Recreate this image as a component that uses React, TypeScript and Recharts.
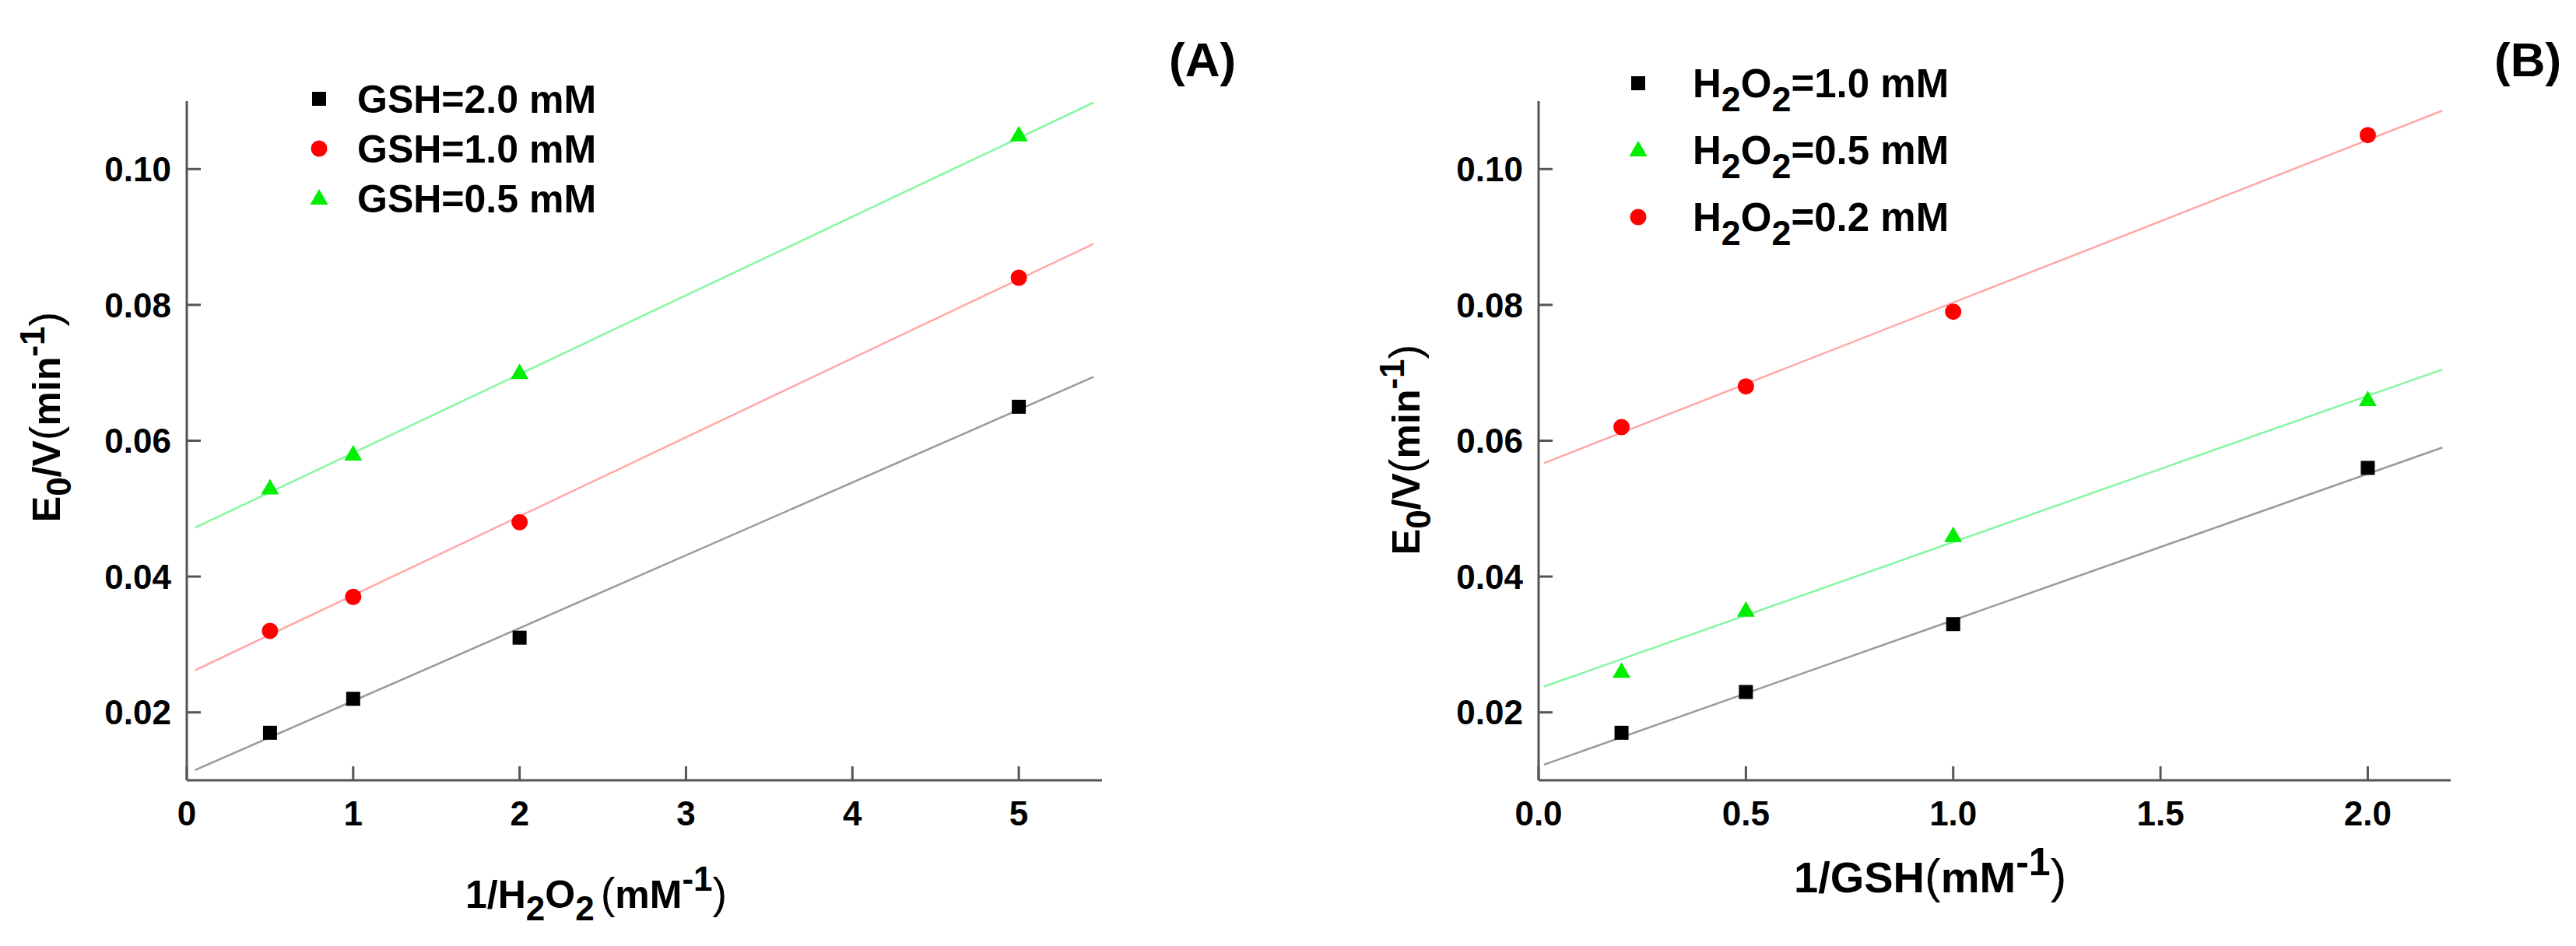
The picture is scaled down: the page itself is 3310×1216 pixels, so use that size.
import { Legend, Scatter, ScatterChart, XAxis, YAxis } from 'recharts'

const FONT = "'Liberation Sans', Arial, Helvetica, sans-serif"
const AXIS = '#555'

// panel A: 1/H2O2 (mM^-1)
const xA = [0.5, 1, 2, 5]
const gsh20 = [0.017, 0.022, 0.031, 0.065]
const gsh10 = [0.032, 0.037, 0.048, 0.084]
const gsh05 = [0.053, 0.058, 0.07, 0.105]
// fitted lines, end points
const fitXA = [0.05, 5.45]
const fitGsh20 = [0.0115, 0.0694]
const fitGsh10 = [0.0262, 0.089]
const fitGsh05 = [0.0472, 0.1098]
const ticksXA = [0, 1, 2, 3, 4, 5]

// panel B: 1/GSH (mM^-1)
const xB = [0.2, 0.5, 1, 2]
const h2o2_10 = [0.017, 0.023, 0.033, 0.056]
const h2o2_05 = [0.026, 0.035, 0.046, 0.066]
const h2o2_02 = [0.062, 0.068, 0.079, 0.105]
const fitXB = [0.013, 2.18]
const fitH10 = [0.0123, 0.059]
const fitH05 = [0.0238, 0.0705]
const fitH02 = [0.0567, 0.1086]
const ticksXB = [0, 0.5, 1, 1.5, 2]

const ticksY = [0.02, 0.04, 0.06, 0.08, 0.1]

const pts = (xs: number[], ys: number[]) => xs.map((x, i) => ({ x, y: ys[i] }))

const BLACK = '#000000'
const RED = '#ff0000'
const GREEN = '#00ee00'
const LINE_BLACK = '#9a9a9a'
const LINE_RED = '#ffa8a8'
const LINE_GREEN = '#86f7a0'

function Square({ cx, cy, fill }: any) {
  return <rect x={cx - 9} y={cy - 9} width={18} height={18} fill={fill} />
}
function Dot({ cx, cy, fill }: any) {
  return <circle cx={cx} cy={cy} r={10.5} fill={fill} />
}
function Tri({ cx, cy, fill }: any) {
  return <polygon points={`${cx},${cy - 12} ${cx + 11.5},${cy + 8} ${cx - 11.5},${cy + 8}`} fill={fill} />
}
const NoShape = () => <g />

const markers: Record<string, (p: any) => any> = { square: Square, circle: Dot, triangle: Tri }

const tickStyle = { fontSize: 44, fontWeight: 'bold', fill: '#000', fontFamily: FONT }

function YTitle({ tx, ty }: { tx: number; ty: number }) {
  return (
    <text
      x={tx}
      y={ty}
      transform={`rotate(-90 ${tx} ${ty})`}
      textAnchor="middle"
      fontSize={50}
      fontWeight="bold"
      fontFamily={FONT}
      fill="#000"
    >
      <tspan>E</tspan>
      <tspan fontSize={44} dy={14}>0</tspan>
      <tspan dy={-14}>/V</tspan>
      <tspan fontWeight="normal" fontSize={56}>(</tspan>
      <tspan>min</tspan>
      <tspan fontSize={44} dy={-20}>-1</tspan>
      <tspan dy={20} fontWeight="normal" fontSize={56}>)</tspan>
    </text>
  )
}

function XTitleA({ tag }: { tag: string }) {
  return (
    <g>
      <text x={598} y={1167} fontSize={50} fontWeight="bold" fontFamily={FONT} fill="#000">
        <tspan>1/H</tspan>
        <tspan fontSize={44} dy={16}>2</tspan>
        <tspan dy={-16}>O</tspan>
        <tspan fontSize={44} dy={16}>2</tspan>
        <tspan dy={-16} dx={8} fontWeight="normal" fontSize={56}>(</tspan>
        <tspan>mM</tspan>
        <tspan fontSize={44} dy={-22}>-1</tspan>
        <tspan dy={22} fontWeight="normal" fontSize={56}>)</tspan>
      </text>
      <text x={1502} y={98} fontSize={62} fontWeight="bold" fontFamily={FONT} fill="#000">
        {tag}
      </text>
    </g>
  )
}

function XTitleB({ tag }: { tag: string }) {
  return (
    <g>
      <text x={650} y={1147} fontSize={56} fontWeight="bold" fontFamily={FONT} fill="#000">
        <tspan>1/GSH</tspan>
        <tspan fontWeight="normal" fontSize={62}>(</tspan>
        <tspan>mM</tspan>
        <tspan fontSize={50} dy={-22}>-1</tspan>
        <tspan dy={22} fontWeight="normal" fontSize={62}>)</tspan>
      </text>
      <text x={1550} y={98} fontSize={62} fontWeight="bold" fontFamily={FONT} fill="#000">
        {tag}
      </text>
    </g>
  )
}

type Item = { label: string; sub?: boolean; shape: string; color: string }

const legendA: Item[] = [
  { label: 'GSH=2.0 mM', shape: 'square', color: BLACK },
  { label: 'GSH=1.0 mM', shape: 'circle', color: RED },
  { label: 'GSH=0.5 mM', shape: 'triangle', color: GREEN },
]
const legendB: Item[] = [
  { label: '=1.0 mM', sub: true, shape: 'square', color: BLACK },
  { label: '=0.5 mM', sub: true, shape: 'triangle', color: GREEN },
  { label: '=0.2 mM', sub: true, shape: 'circle', color: RED },
]

function LegendBox({ items, rowGap, textX, size }: { items: Item[]; rowGap: number; textX: number; size: number }) {
  return (
    <svg width={480} height={rowGap * items.length + 40} style={{ display: 'block' }}>
      {items.map((it, i) => {
        const cy = 36 + i * rowGap
        const M = markers[it.shape]
        return (
          <g key={it.label}>
            <M cx={30} cy={cy} fill={it.color} />
            <text x={textX} y={cy + size * 0.36} fontSize={size} fontWeight="bold" fontFamily={FONT} fill="#000">
              {it.sub ? (
                <>
                  <tspan>H</tspan>
                  <tspan fontSize={size * 0.88} dy={18}>2</tspan>
                  <tspan dy={-18}>O</tspan>
                  <tspan fontSize={size * 0.88} dy={18}>2</tspan>
                  <tspan dy={-18}>{it.label}</tspan>
                </>
              ) : (
                it.label
              )}
            </text>
          </g>
        )
      })}
    </svg>
  )
}

function Panel({
  series,
  fits,
  fitX,
  xTicks,
  xMax,
  yWidth,
  right,
  xFmt,
  title,
  yTitleX,
  yTitleY,
  legend,
}: any) {
  return (
    <ScatterChart width={1655} height={1216} margin={{ top: 130, right, bottom: 0, left: 0 }}>
      <XAxis
        type="number"
        dataKey="x"
        domain={[0, xMax]}
        ticks={xTicks}
        tickFormatter={xFmt}
        height={213}
        axisLine={{ stroke: AXIS, strokeWidth: 3 }}
        tickLine={{ stroke: AXIS, strokeWidth: 3 }}
        tickSize={-18}
        tickMargin={45}
        tick={tickStyle}
        allowDataOverflow
        label={title}
      />
      <YAxis
        type="number"
        dataKey="y"
        domain={[0.01, 0.11]}
        ticks={ticksY}
        tickFormatter={(v: number) => v.toFixed(2)}
        width={yWidth}
        axisLine={{ stroke: AXIS, strokeWidth: 3 }}
        tickLine={{ stroke: AXIS, strokeWidth: 3 }}
        tickSize={-18}
        tickMargin={38}
        tick={tickStyle}
        allowDataOverflow
        label={<YTitle tx={yTitleX} ty={yTitleY} />}
      />
      {fits.map((f: any) => (
        <Scatter
          key={f.name}
          name={f.name}
          data={pts(fitX, f.ys)}
          line={{ stroke: f.color, strokeWidth: 2.5 }}
          shape={NoShape}
          legendType="none"
          isAnimationActive={false}
        />
      ))}
      {series.map((s: any) => (
        <Scatter
          key={s.name}
          name={s.name}
          data={pts(s.xs, s.ys)}
          fill={s.color}
          shape={(p: any) => {
            const M = markers[s.shape]
            return <M cx={p.cx} cy={p.cy} fill={s.color} />
          }}
          isAnimationActive={false}
        />
      ))}
      <Legend
        layout="vertical"
        align="center"
        verticalAlign="middle"
        wrapperStyle={legend.style}
        content={() => legend.node}
      />
    </ScatterChart>
  )
}

export default function App() {
  return (
    <div style={{ width: 3310, height: 1216, display: 'flex', background: '#fff' }}>
      <style>{'body{margin:0;background:#fff}'}</style>
      <Panel
        series={[
          { name: 'GSH=2.0 mM', xs: xA, ys: gsh20, shape: 'square', color: BLACK },
          { name: 'GSH=1.0 mM', xs: xA, ys: gsh10, shape: 'circle', color: RED },
          { name: 'GSH=0.5 mM', xs: xA, ys: gsh05, shape: 'triangle', color: GREEN },
        ]}
        fits={[
          { name: 'fit 2.0', ys: fitGsh20, color: LINE_BLACK },
          { name: 'fit 1.0', ys: fitGsh10, color: LINE_RED },
          { name: 'fit 0.5', ys: fitGsh05, color: LINE_GREEN },
        ]}
        fitX={fitXA}
        xTicks={ticksXA}
        xMax={5.5}
        yWidth={240}
        right={239}
        xFmt={(v: number) => String(v)}
        title={<XTitleA tag="(A)" />}
        yTitleX={77}
        yTitleY={536}
        legend={{
          style: { left: 380, top: 91, width: 480 },
          node: <LegendBox items={legendA} rowGap={64} textX={79} size={50} />,
        }}
      />
      <Panel
        series={[
          { name: 'H2O2=1.0 mM', xs: xB, ys: h2o2_10, shape: 'square', color: BLACK },
          { name: 'H2O2=0.5 mM', xs: xB, ys: h2o2_05, shape: 'triangle', color: GREEN },
          { name: 'H2O2=0.2 mM', xs: xB, ys: h2o2_02, shape: 'circle', color: RED },
        ]}
        fits={[
          { name: 'fit 1.0', ys: fitH10, color: LINE_BLACK },
          { name: 'fit 0.5', ys: fitH05, color: LINE_GREEN },
          { name: 'fit 0.2', ys: fitH02, color: LINE_RED },
        ]}
        fitX={fitXB}
        xTicks={ticksXB}
        xMax={2.2}
        yWidth={322}
        right={161}
        xFmt={(v: number) => v.toFixed(1)}
        title={<XTitleB tag="(B)" />}
        yTitleX={169}
        yTitleY={578}
        legend={{
          style: { left: 420, top: 71, width: 480 },
          node: <LegendBox items={legendB} rowGap={86} textX={100} size={51} />,
        }}
      />
    </div>
  )
}
